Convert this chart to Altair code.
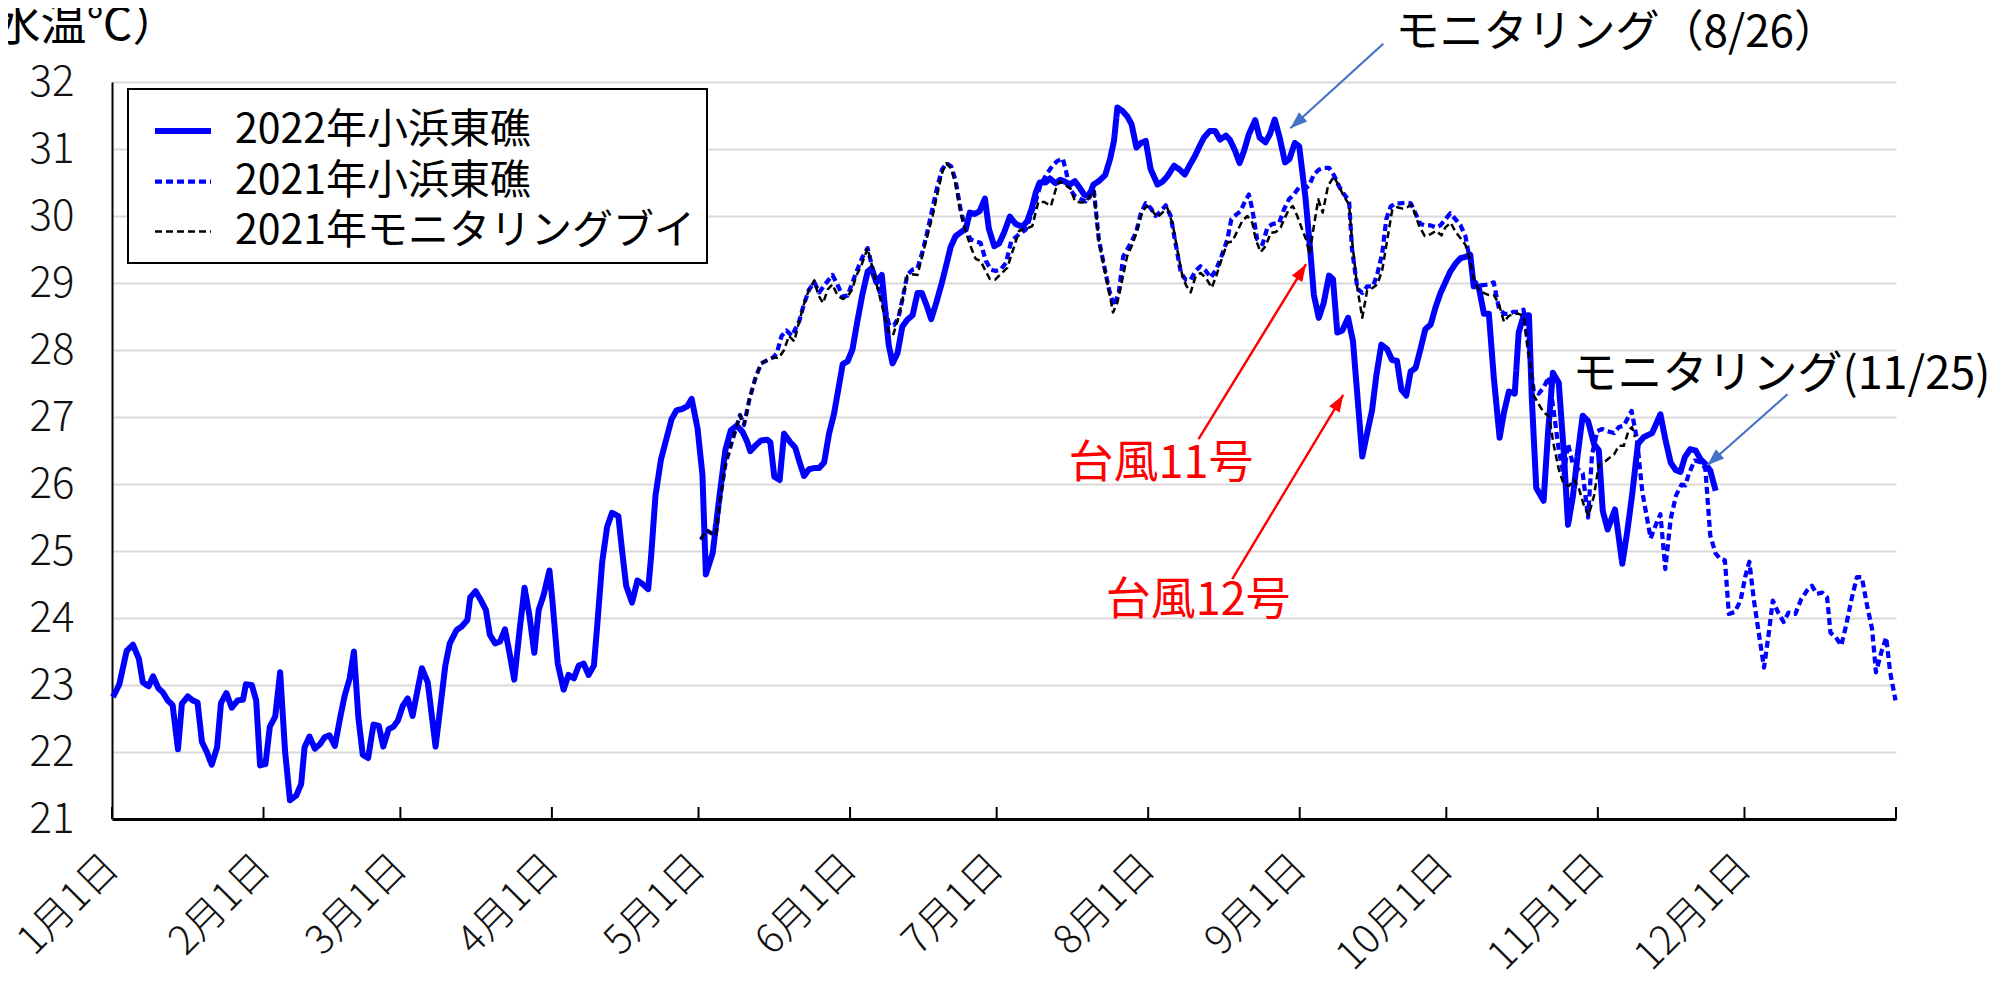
import altair as alt
import pandas as pd

FONT = "Noto Sans CJK JP"

SERIES = ["2022年小浜東礁", "2021年小浜東礁", "2021年モニタリングブイ"]
COLORS = ["#0000FF", "#0000FF", "#000000"]
DASHES = [[1, 0], [7, 4], [7, 4]]
WIDTHS = [6, 2.5, 2.5]

MONTH_DAYS = [0, 31, 59, 90, 120, 151, 181, 212, 243, 273, 304, 334]
MONTH_LABELS = ["1月1日", "2月1日", "3月1日", "4月1日", "5月1日", "6月1日",
                "7月1日", "8月1日", "9月1日", "10月1日", "11月1日", "12月1日"]
YEAR_END = 365
Y_TICKS = list(range(21, 33))

# (day of year from Jan 1, water temperature)
S2022 = [(0.2,22.82),(1.5,23.01),(3.0,23.51),(4.3,23.60),(5.5,23.39),(6.3,23.04),(7.5,22.98),(8.4,23.13),(9.5,22.95),(10.4,22.89),(11.4,22.77),(12.4,22.70),(13.5,22.04),(14.3,22.72),(15.5,22.83),(16.5,22.77),(17.5,22.74),(18.4,22.15),(19.4,22.00),(20.4,21.81),(21.5,22.07),(22.3,22.73),(23.4,22.88),(24.5,22.66),(25.7,22.77),(26.8,22.78),(27.4,23.01),(28.6,23.00),(29.5,22.77),(30.3,21.80),(31.4,21.82),(32.3,22.38),(33.4,22.53),(34.4,23.19),(35.4,22.02),(36.4,21.28),(37.7,21.35),(38.7,21.52),(39.4,22.07),(40.4,22.23),(41.5,22.05),(42.6,22.12),(43.5,22.22),(44.5,22.25),(45.6,22.09),(46.7,22.52),(47.6,22.84),(48.6,23.09),(49.5,23.50),(50.4,22.52),(51.3,21.96),(52.4,21.91),(53.5,22.41),(54.6,22.39),(55.5,22.08),(56.6,22.34),(57.6,22.38),(58.5,22.47),(59.5,22.69),(60.5,22.80),(61.5,22.54),(62.5,22.92),(63.4,23.25),(64.6,23.04),(66.2,22.08),(68.2,23.29),(69.1,23.62),(70.5,23.82),(71.5,23.87),(72.7,23.97),(73.3,24.31),(74.4,24.40),(75.5,24.26),(76.5,24.12),(77.3,23.75),(78.4,23.62),(79.4,23.65),(80.4,23.83),(81.3,23.49),(82.3,23.08),(83.4,23.82),(84.4,24.45),(85.4,24.04),(86.4,23.48),(87.3,24.12),(88.3,24.34),(89.5,24.71),(90.1,24.26),(91.2,23.32),(92.4,22.93),(93.4,23.15),(94.5,23.10),(95.5,23.29),(96.5,23.32),(97.5,23.15),(98.6,23.29),(99.2,23.82),(100.3,24.84),(101.3,25.36),(102.3,25.57),(103.6,25.52),(104.4,24.98),(105.2,24.48),(106.4,24.23),(107.5,24.56),(108.5,24.51),(109.7,24.43),(110.3,24.92),(111.2,25.83),(112.3,26.36),(113.3,26.64),(114.5,26.97),(115.5,27.10),(116.7,27.12),(117.7,27.16),(118.6,27.27),(119.8,26.83),(120.8,26.14),(121.5,24.65),(122.9,24.97),(124.2,25.77),(125.5,26.51),(126.6,26.80),(127.8,26.87),(129.0,26.78),(129.9,26.64),(130.6,26.49),(131.6,26.57),(132.8,26.65),(134.1,26.66),(134.7,26.62),(135.5,26.11),(136.6,26.06),(137.5,26.75),(138.7,26.63),(139.8,26.54),(140.7,26.32),(141.6,26.12),(142.6,26.22),(143.7,26.24),(144.7,26.24),(145.7,26.32),(146.7,26.75),(147.7,27.04),(148.6,27.41),(149.5,27.79),(150.5,27.83),(151.5,28.01),(152.5,28.43),(153.5,28.82),(154.6,29.17),(155.4,29.22),(156.4,29.01),(157.5,29.12),(158.2,28.59),(158.9,28.08),(159.7,27.80),(160.7,27.95),(161.7,28.35),(162.7,28.45),(163.8,28.52),(164.8,28.85),(165.7,28.85),(166.7,28.66),(167.6,28.46),(168.7,28.72),(169.7,28.98),(170.7,29.27),(171.6,29.54),(172.6,29.70),(173.7,29.76),(174.7,29.81),(175.5,30.05),(176.5,30.03),(177.5,30.07),(178.6,30.26),(179.4,29.81),(180.5,29.55),(181.5,29.59),(182.5,29.75),(183.7,29.99),(184.9,29.88),(186.3,29.84),(187.3,29.93),(188.2,30.12),(189.0,30.35),(189.8,30.50),(191.0,30.50),(191.9,30.56),(193.0,30.49),(194.0,30.54),(195.0,30.51),(196.0,30.47),(197.0,30.52),(198.0,30.42),(198.9,30.32),(199.9,30.29),(200.8,30.47),(201.9,30.52),(203.2,30.61),(204.2,30.85),(205.0,31.12),(205.7,31.62),(206.7,31.57),(207.7,31.49),(208.6,31.37),(209.6,31.02),(210.5,31.09),(211.5,31.12),(212.5,30.70),(213.9,30.47),(214.9,30.51),(215.9,30.59),(217.3,30.75),(218.3,30.70),(219.5,30.62),(220.5,30.76),(221.6,30.90),(222.5,31.04),(223.4,31.17),(224.6,31.27),(225.7,31.27),(226.7,31.14),(227.9,31.20),(228.7,31.14),(229.8,30.97),(230.7,30.79),(231.6,30.97),(232.6,31.22),(233.9,31.43),(234.8,31.17),(236.0,31.10),(236.9,31.22),(237.9,31.44),(238.9,31.17),(240.0,30.80),(240.9,30.85),(242.0,31.09),(242.9,31.04),(244.2,30.26),(245.2,29.45),(245.9,28.82),(246.9,28.48),(247.9,28.70),(249.0,29.11),(249.8,29.06),(250.7,28.26),(251.7,28.29),(252.9,28.48),(253.9,28.13),(254.8,27.32),(255.8,26.41),(256.8,26.76),(257.8,27.10),(258.7,27.63),(259.7,28.08),(260.9,28.01),(261.9,27.85),(262.9,27.84),(263.8,27.41),(264.8,27.32),(265.7,27.68),(266.7,27.73),(267.7,28.01),(268.7,28.31),(269.8,28.38),(270.8,28.64),(271.8,28.85),(272.8,29.01),(273.8,29.17),(274.9,29.29),(275.9,29.37),(276.9,29.39),(277.9,29.42),(278.6,28.95),(279.6,28.95),(280.7,28.54),(281.7,28.54),(282.7,27.60),(283.9,26.69),(284.8,27.07),(285.8,27.38),(287.0,27.35),(287.8,28.26),(288.8,28.51),(289.9,28.52),(290.5,27.26),(291.4,25.94),(292.9,25.75),(293.8,26.76),(294.8,27.66),(296.0,27.51),(297.0,26.51),(297.9,25.39),(298.9,25.82),(300.0,26.51),(300.9,27.02),(302.0,26.94),(303.2,26.60),(304.2,26.50),(305.0,25.60),(306.0,25.32),(307.5,25.62),(309.0,24.81),(310.0,25.28),(311.0,25.83),(312.2,26.60),(313.4,26.70),(315.1,26.76),(316.8,27.04),(317.8,26.67),(318.9,26.32),(319.9,26.21),(320.9,26.18),(321.8,26.40),(322.9,26.52),(324.0,26.50),(325.0,26.37),(326.0,26.30),(327.0,26.20),(328.1,25.90)]

S2021_BUOY = [(120.5,25.17),(121.6,25.31),(123.5,25.23),(124.6,25.87),(125.5,26.30),(127.0,26.67),(128.5,27.03),(129.3,26.88),(130.4,27.26),(131.6,27.57),(132.8,27.80),(134.1,27.85),(135.3,27.89),(136.4,27.88),(137.5,28.00),(138.5,28.21),(139.6,28.13),(140.6,28.43),(141.6,28.69),(142.6,28.90),(143.7,29.04),(144.5,28.82),(145.5,28.70),(146.4,28.90),(147.4,28.98),(148.4,28.82),(149.5,28.76),(150.5,28.80),(151.4,28.90),(152.2,29.09),(153.4,29.28),(154.6,29.52),(155.6,29.22),(156.9,28.85),(158.0,28.53),(158.9,28.27),(159.8,28.22),(160.7,28.43),(161.7,28.74),(162.7,29.11),(163.8,29.13),(164.8,29.12),(165.7,29.38),(166.8,29.70),(167.9,30.00),(168.9,30.34),(169.9,30.66),(170.7,30.79),(171.7,30.71),(172.6,30.47),(173.7,30.02),(174.7,29.76),(175.7,29.54),(176.7,29.36),(177.7,29.33),(178.6,29.20),(179.6,29.06),(180.7,29.05),(181.8,29.13),(183.2,29.23),(184.6,29.55),(185.6,29.78),(186.8,29.80),(188.3,29.85),(189.5,30.21),(190.7,30.21),(192.1,30.15),(193.1,30.40),(193.9,30.52),(195.1,30.46),(196.2,30.40),(197.0,30.22),(198.2,30.20),(199.4,30.21),(200.0,30.30),(200.9,30.37),(201.9,29.63),(203.0,29.23),(203.9,28.91),(204.8,28.56),(205.7,28.71),(206.7,29.05),(207.7,29.40),(208.8,29.58),(209.8,29.80),(210.8,30.07),(211.8,30.15),(212.9,30.07),(213.9,29.98),(214.9,30.05),(215.9,30.12),(217.0,29.88),(218.0,29.48),(219.0,29.10),(219.8,28.96),(220.7,28.86),(221.7,29.10),(222.7,29.15),(223.8,29.08),(225.0,28.93),(225.9,29.10),(227.0,29.35),(228.2,29.60),(229.2,29.62),(230.4,29.80),(231.3,29.93),(232.3,30.00),(233.3,29.90),(234.0,29.65),(235.0,29.46),(236.0,29.55),(237.1,29.75),(238.1,29.76),(239.1,29.83),(240.0,29.98),(240.8,30.10),(241.6,30.15),(242.5,30.00),(243.5,29.80),(244.4,29.63),(245.0,29.43),(245.9,29.85),(246.8,30.25),(247.7,30.05),(248.8,30.45),(250.0,30.59),(251.0,30.45),(252.0,30.30),(253.1,30.17),(253.7,29.64),(254.8,28.92),(255.8,28.48),(256.8,28.89),(257.8,28.92),(258.9,28.98),(259.9,29.20),(260.9,29.64),(261.9,30.08),(262.9,30.13),(264.1,30.11),(265.0,30.13),(265.9,30.17),(266.7,30.01),(267.5,29.84),(268.6,29.70),(269.8,29.73),(270.9,29.78),(272.0,29.71),(272.8,29.83),(273.9,29.90),(274.9,29.76),(275.9,29.67),(276.9,29.57),(277.7,29.39),(278.6,29.07),(279.6,28.90),(280.7,28.85),(281.7,28.82),(282.7,28.82),(283.7,28.70),(284.8,28.42),(285.8,28.51),(286.8,28.54),(287.8,28.54),(288.8,28.51),(289.9,27.95),(290.9,27.32),(291.9,27.19),(292.9,27.07),(294.0,27.01),(295.0,26.57),(296.0,26.22),(297.0,26.00),(298.1,25.97),(299.1,26.07),(300.1,25.94),(301.1,25.69),(302.1,25.53),(303.2,25.82),(304.2,26.29),(305.2,26.32),(306.2,26.38),(307.3,26.44),(308.3,26.57),(309.3,26.57),(310.3,26.80),(311.0,26.85),(311.6,26.70)]

S2021_REEF = [(120.5,25.17),(121.6,25.31),(123.5,25.23),(124.6,25.87),(125.5,26.30),(127.0,26.67),(128.5,27.03),(129.3,26.88),(130.4,27.26),(131.6,27.57),(132.8,27.80),(134.1,27.85),(135.3,27.89),(136.0,27.95),(137.0,28.21),(138.0,28.29),(139.1,28.21),(140.6,28.43),(141.6,28.69),(142.6,28.90),(143.7,29.01),(144.7,28.86),(145.9,28.98),(147.4,29.12),(148.4,28.98),(149.5,28.80),(150.5,28.81),(151.5,29.01),(152.5,29.20),(153.5,29.38),(154.6,29.52),(155.6,29.22),(156.9,28.90),(158.0,28.69),(159.0,28.37),(160.0,28.37),(160.9,28.48),(161.9,28.82),(162.7,29.12),(163.8,29.20),(164.8,29.22),(165.8,29.46),(166.8,29.76),(167.9,30.13),(168.9,30.45),(169.8,30.69),(170.7,30.79),(171.7,30.74),(172.6,30.53),(173.6,30.10),(174.7,29.78),(175.7,29.65),(176.7,29.62),(177.7,29.60),(178.8,29.33),(179.8,29.20),(180.8,29.18),(181.8,29.20),(182.9,29.30),(184.0,29.63),(185.6,29.73),(187.0,29.80),(188.7,30.15),(190.0,30.47),(191.2,30.62),(192.4,30.75),(193.4,30.82),(194.5,30.86),(195.1,30.70),(196.0,30.40),(197.0,30.30),(198.2,30.25),(199.2,30.22),(200.2,30.40),(200.9,30.37),(201.9,29.65),(203.0,29.25),(204.0,28.90),(205.0,28.66),(206.0,28.86),(206.9,29.40),(208.1,29.55),(209.5,29.75),(210.5,30.04),(211.5,30.19),(212.5,30.12),(213.5,30.00),(214.6,30.07),(215.6,30.16),(216.6,30.00),(217.5,29.63),(218.7,29.15),(219.7,29.05),(220.7,29.05),(221.7,29.18),(222.7,29.25),(223.8,29.18),(224.8,29.08),(225.9,29.20),(227.0,29.40),(228.2,29.65),(229.0,29.95),(230.0,30.02),(230.9,30.07),(231.8,30.22),(232.6,30.32),(233.3,30.10),(234.3,29.65),(235.4,29.58),(236.4,29.83),(237.4,29.88),(238.8,29.90),(239.8,30.10),(240.8,30.25),(241.8,30.32),(242.8,30.42),(243.9,30.40),(244.9,30.45),(245.9,30.62),(246.9,30.69),(247.9,30.72),(249.0,30.72),(250.0,30.61),(251.0,30.45),(252.0,30.33),(253.1,30.23),(253.7,29.51),(254.8,28.92),(255.8,28.85),(256.8,28.95),(258.0,28.95),(258.9,29.14),(259.9,29.45),(260.7,29.95),(261.6,30.14),(262.6,30.19),(263.6,30.19),(264.7,30.20),(265.7,30.19),(266.7,30.04),(267.7,29.88),(268.7,29.86),(269.8,29.86),(270.8,29.83),(271.8,29.86),(272.8,29.95),(273.8,30.04),(274.9,29.95),(275.9,29.86),(276.9,29.70),(277.7,29.39),(278.6,29.04),(279.6,28.97),(280.7,28.97),(281.7,28.98),(282.7,29.01),(283.7,28.64),(284.8,28.54),(285.8,28.54),(286.8,28.57),(287.8,28.57),(288.8,28.60),(289.9,27.95),(290.9,27.38),(291.9,27.35),(292.9,27.44),(294.0,27.60),(295.0,27.07),(296.0,26.51),(297.0,26.13),(297.9,26.60),(298.9,26.29),(300.0,26.22),(300.9,26.16),(302.0,25.50),(302.8,26.44),(303.9,26.79),(304.9,26.82),(305.9,26.79),(307.3,26.76),(308.3,26.85),(309.3,26.87),(310.9,27.09),(312.0,26.67),(313.1,25.88),(314.8,25.19),(315.8,25.38),(316.8,25.55),(317.8,24.73),(318.9,25.48),(320.0,25.83),(321.1,25.99),(321.9,25.98),(322.6,26.15),(323.8,26.35),(325.3,26.32),(326.0,26.22),(327.0,25.23),(328.1,24.96),(329.1,24.88),(330.0,24.86),(330.8,24.06),(332.0,24.09),(333.2,24.26),(334.2,24.63),(335.0,24.84),(335.9,24.28),(337.1,23.69),(338.0,23.26),(339.0,23.79),(339.8,24.26),(340.9,24.08),(342.0,23.94),(343.0,24.08),(344.4,24.06),(345.6,24.28),(346.8,24.41),(347.8,24.48),(348.8,24.36),(349.9,24.38),(350.9,24.31),(351.6,23.78),(352.7,23.71),(353.8,23.59),(354.8,23.89),(355.9,24.28),(357.0,24.61),(358.0,24.61),(359.1,24.18),(360.1,23.84),(360.9,23.19),(362.0,23.49),(363.0,23.71),(363.8,23.19),(364.9,22.77)]

# annotations, anchored in data units (day, temperature)
TEXT_BLACK = [
    {"text": "モニタリング（8/26）", "day": 262.6, "temp": 32.72, "size": 44},
    {"text": "モニタリング(11/25)", "day": 298.8, "temp": 27.63, "size": 45},
]
TEXT_RED = [
    {"text": "台風11号", "day": 195.7, "temp": 26.30, "size": 45},
    {"text": "台風12号", "day": 203.3, "temp": 24.25, "size": 45},
]
ARROWS_BLUE = [
    {"day": 260.1, "temp": 32.57, "day2": 241.1, "temp2": 31.31, "angle": 228},
    {"day": 342.8, "temp": 27.34, "day2": 326.4, "temp2": 26.28, "angle": 228},
]
ARROWS_RED = [
    {"day": 222.3, "temp": 26.67, "day2": 244.3, "temp2": 29.28, "angle": 32},
    {"day": 229.2, "temp": 24.58, "day2": 251.9, "temp2": 27.33, "angle": 31},
]
ARROW_HEAD = "M0,0L0.36,1L-0.36,1Z"

frames = []
for name, pts in zip(SERIES, [S2022, S2021_REEF, S2021_BUOY]):
    frames.append(pd.DataFrame({"series": name,
                                "day": [p[0] for p in pts],
                                "temp": [p[1] for p in pts]}))
df = pd.concat(frames, ignore_index=True)

label_expr = ("[" + ",".join("'" + s + "'" for s in MONTH_LABELS) + "][indexof(["
              + ",".join(str(d) for d in MONTH_DAYS) + "], datum.value)]")

X_SCALE = alt.Scale(domain=[0, YEAR_END], nice=False, zero=False)
Y_SCALE = alt.Scale(domain=[21, 32], nice=False, zero=False)
X_AXIS = alt.Axis(values=MONTH_DAYS, labelExpr=label_expr, title=None, grid=False,
                  ticks=False, domainColor="black", domainWidth=3,
                  labelAngle=315, labelAlign="right", labelBaseline="middle",
                  labelFont=FONT, labelFontSize=40, labelFontWeight=300,
                  labelColor="#111111", labelPadding=42, labelFlush=False,
                  labelOverlap=False, labelBound=False)
Y_AXIS = alt.Axis(values=Y_TICKS, title="（水温℃）", titleAngle=0, titleAlign="right",
                  titleBaseline="middle", titleX=66, titleY=-57,
                  titleFont=FONT, titleFontSize=46, titleFontWeight="normal",
                  titleColor="black", ticks=False, domainColor="black", domainWidth=2,
                  gridColor="#D9D9D9", gridWidth=1.8, labelFont=FONT,
                  labelFontSize=42, labelFontWeight=300, labelColor="#111111",
                  labelPadding=38, labelFlush=False, labelOverlap=False)

X = alt.X("day:Q", scale=X_SCALE, axis=X_AXIS)
Y = alt.Y("temp:Q", scale=Y_SCALE, axis=Y_AXIS)

legend = alt.Legend(title=None, orient="none", legendX=16, legendY=7, direction="vertical",
                    fillColor="white", strokeColor="black", padding=11,
                    symbolType="stroke", symbolSize=3136, symbolOffset=13,
                    labelOffset=21, labelFont=FONT, labelFontSize=41, labelColor="black",
                    rowPadding=0, labelLimit=0)

color = alt.Color("series:N", scale=alt.Scale(domain=SERIES, range=COLORS), legend=legend)
dash = alt.StrokeDash("series:N", scale=alt.Scale(domain=SERIES, range=DASHES), legend=legend)
width = alt.StrokeWidth("series:N", scale=alt.Scale(domain=SERIES, range=WIDTHS), legend=legend)

layers = []
for name in SERIES:
    layers.append(
        alt.Chart(df).transform_filter(alt.datum.series == name)
        .mark_line(strokeJoin="round", strokeCap="butt")
        .encode(x=X, y=Y, color=color, strokeDash=dash, strokeWidth=width,
                order="day:Q")
    )

ticks = alt.Chart(pd.DataFrame({"day": MONTH_DAYS + [YEAR_END]})).mark_rule(
    color="black", strokeWidth=2).encode(x=X, y=alt.value(737), y2=alt.value(725))

def arrow_layers(rows, col, w):
    d = pd.DataFrame(rows)
    line = alt.Chart(d).mark_rule(color=col, strokeWidth=w).encode(
        x=X, y=Y, x2="day2:Q", y2="temp2:Q")
    head = alt.Chart(d).mark_point(shape=ARROW_HEAD, filled=True, fill=col, color=col,
                                   opacity=1, strokeWidth=0, size=1156).encode(
        x=alt.X("day2:Q", scale=X_SCALE, axis=X_AXIS),
        y=alt.Y("temp2:Q", scale=Y_SCALE, axis=Y_AXIS),
        angle=alt.Angle("angle:Q", scale=None))
    return [line, head]

def text_layer(rows, col):
    d = pd.DataFrame(rows)
    return alt.Chart(d).mark_text(align="left", baseline="middle", font=FONT,
                                  color=col).encode(
        x=X, y=Y, text="text:N", size=alt.Size("size:Q", scale=None))

layers += [ticks]
layers += arrow_layers(ARROWS_BLUE, "#4472C4", 2.2)
layers += arrow_layers(ARROWS_RED, "#FF0000", 2.4)
layers += [text_layer(TEXT_BLACK, "black"), text_layer(TEXT_RED, "#FF0000")]

chart = alt.layer(*layers).properties(
    width=1784, height=737,
    autosize=alt.AutoSizeParams(type="none"),
    padding={"left": 104, "top": 74, "right": 97, "bottom": 160},
    background="white",
).configure_view(stroke=None).configure_legend(strokeWidth=2)

chart.save("out.html", embed_options={"renderer": "svg", "actions": False})
